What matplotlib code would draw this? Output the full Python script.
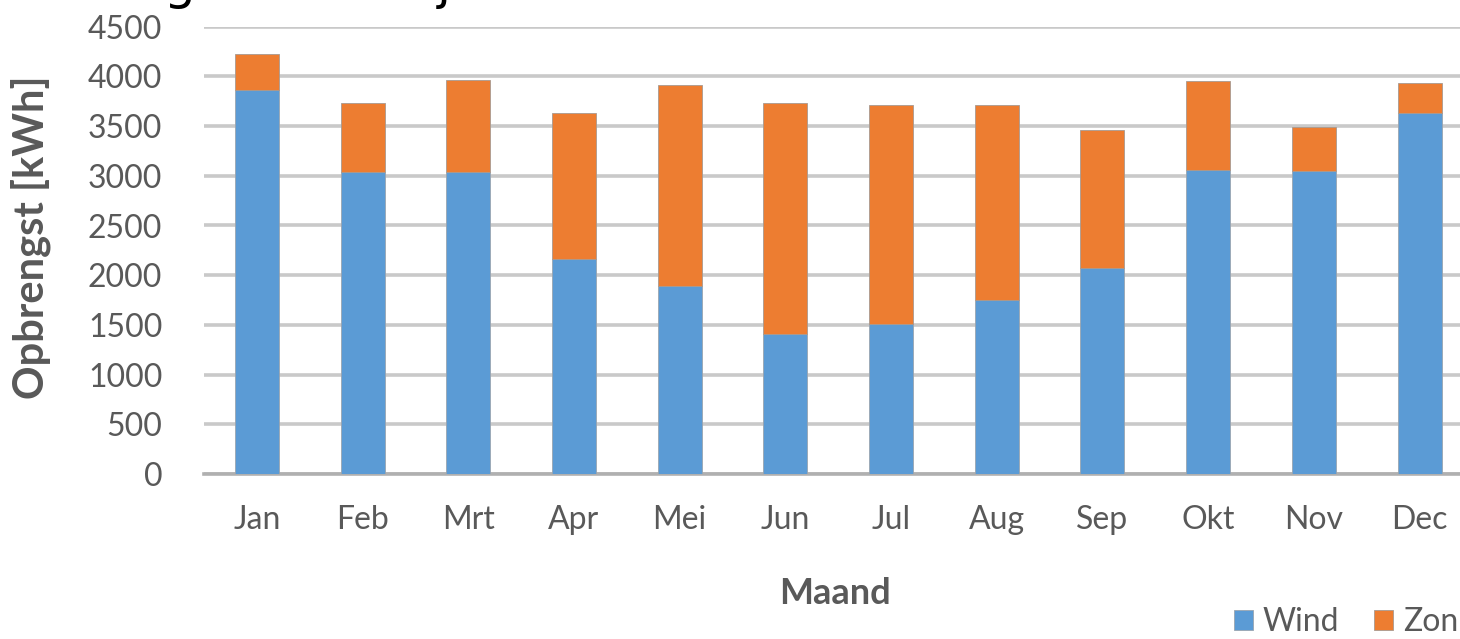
import matplotlib
matplotlib.use("Agg")
import matplotlib.pyplot as plt
import numpy as np

months = ["Jan", "Feb", "Mrt", "Apr", "Mei", "Jun", "Jul", "Aug", "Sep", "Okt", "Nov", "Dec"]
wind = [3860, 3040, 3040, 2168, 1889, 1409, 1507, 1755, 2068, 3060, 3050, 3627]
totaal = [4230, 3735, 3960, 3634, 3909, 3735, 3710, 3710, 3460, 3957, 3487, 3933]
zon = [t - w for t, w in zip(totaal, wind)]
yticks = [0, 500, 1000, 1500, 2000, 2500, 3000, 3500, 4000, 4500]

W, H = 1460, 639
fig = plt.figure(figsize=(W / 100, H / 100), dpi=100)
plt.rcParams["font.family"] = ["Lato", "DejaVu Sans"]

left, right, top, bottom = 204, 1460, 26.7, 474
ax = fig.add_axes([left / W, 1 - bottom / H, (right - left) / W, (bottom - top) / H])

blue = "#5B9BD5"
orange = "#ED7D31"
x = np.arange(len(months))
bw = 0.416
ax.bar(x, wind, width=bw, color=blue, edgecolor="#9aa5b0", linewidth=0.6, zorder=3, label="Wind")
ax.bar(x, zon, bottom=wind, width=bw, color=orange, edgecolor="#a89a90", linewidth=0.6, zorder=3, label="Zon")

spacing = 105.7
ax.set_xlim(-0.5, -0.5 + (right - left) / spacing)
ax.set_ylim(0, 4500)
ax.set_yticks(yticks)
ax.set_yticklabels([str(v) for v in yticks])
ax.set_xticks(x)
ax.set_xticklabels(months)
ax.grid(axis="y", color="#c9c9c9", linewidth=2.6, zorder=0)
ax.set_axisbelow(True)
for s in ["top", "right", "left"]:
    ax.spines[s].set_visible(False)
ax.spines["bottom"].set_color("#b0b0b0")
ax.spines["bottom"].set_linewidth(2.6)
ax.spines["bottom"].set_zorder(2)
ax.tick_params(axis="both", length=0, labelsize=23, labelcolor="#595959")
ax.tick_params(axis="y", pad=30)
ax.tick_params(axis="x", pad=22)

ax.set_ylabel("Opbrengst [kWh]", fontsize=30, fontweight="bold", color="#595959", labelpad=14)
ax.yaxis.set_label_coords(-153 / (right - left), 0.530)
fig.text(835 / W, 1 - 594 / H, "Maand", fontsize=26, fontweight="bold", color="#595959",
         ha="center", va="center")

fig.legend(loc="center right", bbox_to_anchor=(1458 / W, 1 - 622 / H), ncol=2, frameon=False,
           fontsize=23, labelcolor="#595959", handlelength=0.6, handleheight=0.6,
           handletextpad=0.3, columnspacing=1.1, borderaxespad=0, borderpad=0)

# partially visible title above the chart (cut off in the original)
title = "Verdeling over het jaar"
fig.canvas.draw()
r = fig.canvas.get_renderer()
probe = fig.text(0, 1.0, "Verdelin", fontsize=36, family="DejaVu Sans")
wpx = probe.get_window_extent(renderer=r).width
probe.remove()
fig.text((164 - wpx) / W, 1.0 + 1 / H, title, fontsize=36, family="DejaVu Sans",
         color="black", ha="left", va="baseline")

fig.savefig("out.png", dpi=100)
